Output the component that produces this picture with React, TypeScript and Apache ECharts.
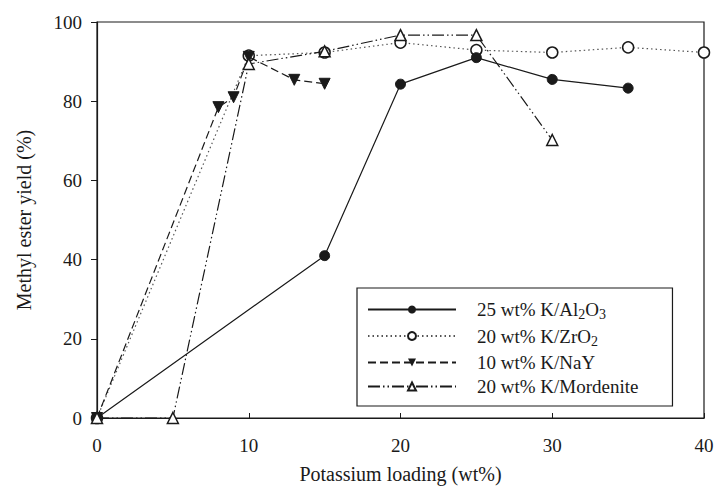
import React, { useEffect, useRef } from "react";
import * as echarts from "echarts";

const xAl = [0, 15, 20, 25, 30, 35];
const yAl = [0, 41, 84.3, 91, 85.5, 83.3];

const xZr = [0, 10, 15, 20, 25, 30, 35, 40];
const yZr = [0, 91.5, 92.3, 94.8, 92.9, 92.3, 93.6, 92.3];

const xNaY = [0, 8, 9, 10, 13, 15];
const yNaY = [0, 78.5, 81, 91.2, 85.4, 84.4];

const xMor = [0, 5, 10, 15, 20, 25, 30];
const yMor = [0, 0, 89.4, 92.6, 96.7, 96.7, 70.2];

const seriesNames = [
  "25 wt% K/Al2O3",
  "20 wt% K/ZrO2",
  "10 wt% K/NaY",
  "20 wt% K/Mordenite",
];

const xTicks = [0, 10, 20, 30, 40];
const yTicks = [0, 20, 40, 60, 80, 100];

const pairs = (xs: number[], ys: number[]) => xs.map((x, i) => [x, ys[i]]);

const FONT = "Liberation Serif";
const INK = "#1a1a1a";

export default function App() {
  const ref = useRef<HTMLDivElement>(null);
  useEffect(() => {
    const chart = echarts.init(ref.current!, undefined, { renderer: "svg" });
    const legendFmt = (name: string) => {
      if (name === seriesNames[0]) return "{n|25 wt% K/Al}{s|2}{n|O}{s|3}";
      if (name === seriesNames[1]) return "{n|20 wt% K/ZrO}{s|2}";
      return "{n|" + name + "}";
    };
    chart.setOption({
      animation: false,
      backgroundColor: "#ffffff",
      grid: {
        left: 97,
        right: 11,
        top: 22,
        bottom: 69,
        show: true,
        borderColor: INK,
        borderWidth: 1.2,
        backgroundColor: "transparent",
        containLabel: false,
        outerBoundsMode: "none",
      },
      legend: {
        data: seriesNames,
        orient: "vertical",
        left: 357,
        top: 288,
        padding: [12, 34, 10, 10],
        itemGap: 5,
        itemWidth: 88,
        itemHeight: 10,
        backgroundColor: "#ffffff",
        borderColor: INK,
        borderWidth: 1.2,
        formatter: legendFmt,
        textStyle: {
          color: INK,
          fontFamily: FONT,
          fontSize: 19,
          padding: [0, 0, 0, 16],
          rich: {
            n: { fontFamily: FONT, fontSize: 19, color: INK },
            s: { fontFamily: FONT, fontSize: 14, color: INK, padding: [10, 0, 0, 0] },
          },
        },
      },
      xAxis: {
        type: "value",
        min: 0,
        max: 40,
        interval: 10,
        name: "Potassium loading (wt%)",
        nameLocation: "middle",
        nameGap: 46,
        nameTextStyle: { fontFamily: FONT, fontSize: 20, color: INK },
        axisLine: { lineStyle: { color: INK, width: 1.2 } },
        axisTick: { inside: true, length: 5, lineStyle: { color: INK } },
        axisLabel: {
          margin: 18,
          fontFamily: FONT,
          fontSize: 19,
          color: INK,
          customValues: xTicks,
        },
        splitLine: { show: false },
      },
      yAxis: {
        type: "value",
        min: 0,
        max: 100,
        interval: 20,
        name: "Methyl ester yield (%)",
        nameLocation: "middle",
        nameGap: 63,
        nameTextStyle: { fontFamily: FONT, fontSize: 20, color: INK },
        axisLine: { lineStyle: { color: INK, width: 1.2 } },
        axisTick: { inside: false, length: 6, lineStyle: { color: INK } },
        axisLabel: {
          margin: 15,
          fontFamily: FONT,
          fontSize: 19,
          color: INK,
          customValues: yTicks,
        },
        splitLine: { show: false },
      },
      series: [
        {
          name: seriesNames[0],
          type: "line",
          data: pairs(xAl, yAl),
          symbol: "circle",
          symbolSize: 10,
          itemStyle: { color: INK, borderColor: INK },
          lineStyle: { color: INK, width: 1.2, type: "solid" },
          z: 4,
        },
        {
          name: seriesNames[1],
          type: "line",
          data: pairs(xZr, yZr),
          symbol: "circle",
          symbolSize: 11,
          itemStyle: { color: "#ffffff", borderColor: INK, borderWidth: 1.5 },
          lineStyle: { color: "#555", width: 1.2, type: [1.5, 3] },
          z: 3,
        },
        {
          name: seriesNames[2],
          type: "line",
          data: pairs(xNaY, yNaY),
          symbol: "triangle",
          symbolRotate: 180,
          symbolSize: 11,
          itemStyle: { color: INK, borderColor: INK },
          lineStyle: { color: INK, width: 1.2, type: [8, 4] },
          z: 5,
        },
        {
          name: seriesNames[3],
          type: "line",
          data: pairs(xMor, yMor),
          symbol: "triangle",
          symbolSize: 11,
          itemStyle: { color: "#ffffff", borderColor: INK, borderWidth: 1.5 },
          lineStyle: { color: INK, width: 1.2, type: [12, 3, 1.5, 3, 1.5, 3] },
          z: 6,
        },
      ],
    });
    return () => chart.dispose();
  }, []);
  return <div ref={ref} style={{ width: 715, height: 487, position: "absolute", left: 0, top: 0 }} />;
}
